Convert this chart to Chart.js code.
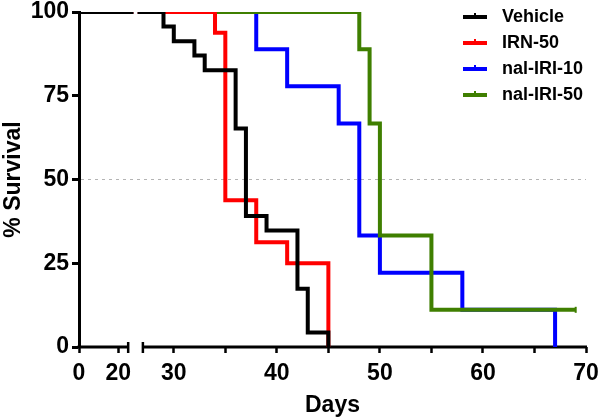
<!DOCTYPE html>
<html>
<head>
<meta charset="utf-8">
<script src="https://cdn.jsdelivr.net/npm/chart.js@4.4.1/dist/chart.umd.min.js"></script>
<style>
	html, body { margin: 0; padding: 0; background: #fff; }
	.km-wrap { position: relative; width: 600px; height: 420px; }
</style>
</head>
<body>
<div class="km-wrap"><canvas id="km-chart"></canvas></div>
<script>
// survival steps (day of event, % survival after it)
var vehicleDays = [29, 30, 32, 33, 36, 37, 39, 42, 43, 45];
var vehicleSurv = [95.7, 91.3, 87.0, 82.6, 65.2, 39.1, 34.8, 17.4, 4.3, 0];
var irnDays = [34, 35, 38, 41, 45];
var irnSurv = [93.8, 43.8, 31.3, 25.0, 0];
var iri10Days = [38, 41, 46, 48, 50, 58, 67];
var iri10Surv = [88.9, 77.8, 66.7, 33.3, 22.2, 11.1, 0];
var iri50Days = [48, 49, 50, 55, 69];
var iri50Surv = [88.9, 66.7, 33.3, 11.1, 11.1];
var iri50Censored = [69];

var seriesNames = ['Vehicle', 'IRN-50', 'nal-IRI-10', 'nal-IRI-50'];
var seriesColors = ['#000000', '#ff0000', '#0000ff', '#3f7f00'];

// broken x axis: two segments, and where the curves themselves are cut
var xSegments = [[0, 25], [27, 70]];
var lineBreak = [25.7, 26.3];
var xTickValues = [0, 20, 30, 35, 40, 45, 50, 55, 60, 65, 70];
var xTickLabels = [0, 20, 30, 40, 50, 60, 70];
var yTickStep = 25;

// share of the axis width taken by segment 1 and by the gap
var breakFrac = [0.097, 0.126];

class BrokenLinearScale extends Chart.LinearScale {
	static id = 'brokenLinear';
	static defaults = {};

	_decFor(v) {
		var a = xSegments[0], b = xSegments[1];
		if (v <= a[1]) return (v - a[0]) / (a[1] - a[0]) * breakFrac[0];
		if (v >= b[0]) return breakFrac[1] + (v - b[0]) / (b[1] - b[0]) * (1 - breakFrac[1]);
		return breakFrac[0] + (v - a[1]) / (b[0] - a[1]) * (breakFrac[1] - breakFrac[0]);
	}

	getPixelForValue(v) {
		if (v === null || v === undefined || isNaN(v)) return NaN;
		return this.getPixelForDecimal(this._decFor(v));
	}

	getValueForPixel(p) {
		var d = this.getDecimalForPixel(p);
		var a = xSegments[0], b = xSegments[1];
		if (d <= breakFrac[0]) return a[0] + d / breakFrac[0] * (a[1] - a[0]);
		if (d >= breakFrac[1]) return b[0] + (d - breakFrac[1]) / (1 - breakFrac[1]) * (b[1] - b[0]);
		return a[1] + (d - breakFrac[0]) / (breakFrac[1] - breakFrac[0]) * (b[0] - a[1]);
	}
}
Chart.register(BrokenLinearScale);

function kmPoints(days, surv) {
	var pts = [{x: xSegments[0][0], y: 100}, {x: lineBreak[0], y: 100}, {x: lineBreak[1], y: 100}];
	days.forEach(function (d, i) {
		pts.push({x: d, y: surv[i]});
	});
	return pts;
}

var allDays = [vehicleDays, irnDays, iri10Days, iri50Days];
var allSurv = [vehicleSurv, irnSurv, iri10Surv, iri50Surv];
var allCensored = [[], [], [], iri50Censored];
// black on top, then red, green, blue underneath
var drawOrder = [0, 1, 3, 2];

var FONT = '"Liberation Sans", Arial, Helvetica, sans-serif';

var datasets = seriesNames.map(function (name, i) {
	var cens = allCensored[i];
	return {
		label: name,
		data: kmPoints(allDays[i], allSurv[i]),
		borderColor: seriesColors[i],
		backgroundColor: seriesColors[i],
		borderWidth: 4,
		stepped: true,
		fill: false,
		order: drawOrder[i],
		pointStyle: 'line',
		rotation: 90,
		pointBorderWidth: 2,
		pointRadius: function (c) {
			return c.raw && cens.indexOf(c.raw.x) > -1 ? 3 : 0;
		},
		pointHoverRadius: 0,
		segment: {
			borderColor: function (c) {
				return c.p0.parsed.x === lineBreak[0] ? 'rgba(0,0,0,0)' : undefined;
			}
		}
	};
});

var brokenAxis = {
	id: 'brokenAxis',
	beforeDatasetsDraw: function (chart) {
		var sx = chart.scales.x;
		var ctx = chart.ctx;
		var y = chart.chartArea.bottom;
		ctx.save();
		ctx.strokeStyle = '#000';
		ctx.lineWidth = 3;
		xSegments.forEach(function (seg, i) {
			var p0 = sx.getPixelForValue(seg[0]);
			var p1 = sx.getPixelForValue(seg[1]);
			ctx.beginPath();
			ctx.moveTo(p0 - (i === 0 ? 1.5 : 0), y);
			ctx.lineTo(p1 + (i === 1 ? 1 : 0), y);
			ctx.stroke();
		});
		// end caps at the break
		ctx.lineWidth = 2.5;
		[xSegments[0][1], xSegments[1][0]].forEach(function (v) {
			var p = sx.getPixelForValue(v);
			ctx.beginPath();
			ctx.moveTo(p, y - 5);
			ctx.lineTo(p, y + 6);
			ctx.stroke();
		});
		ctx.restore();
	}
};

var kmLegend = {
	id: 'kmLegend',
	afterDraw: function (chart) {
		var ctx = chart.ctx;
		var area = chart.chartArea;
		var x0 = area.right - 123;
		var y0 = area.top + 5;
		ctx.save();
		ctx.font = 'bold 18px ' + FONT;
		ctx.textBaseline = 'middle';
		ctx.textAlign = 'left';
		chart.data.datasets.forEach(function (ds, i) {
			var y = y0 + i * 26;
			ctx.fillStyle = ds.borderColor;
			ctx.fillRect(x0, y - 2, 24, 4);
			ctx.fillRect(x0 + 11, y - 4, 2, 2);
			ctx.fillStyle = '#000';
			ctx.fillText(ds.label, x0 + 39, y);
		});
		ctx.restore();
	}
};

Chart.defaults.font.family = FONT;
Chart.defaults.color = '#000';

new Chart(document.getElementById('km-chart'), {
	type: 'line',
	data: {datasets: datasets},
	plugins: [brokenAxis, kmLegend],
	options: {
		responsive: true,
		maintainAspectRatio: false,
		animation: false,
		layout: {padding: 0},
		plugins: {
			legend: {display: false},
			tooltip: {enabled: false}
		},
		scales: {
			x: {
				type: 'brokenLinear',
				min: xSegments[0][0],
				max: xSegments[1][1],
				afterBuildTicks: function (s) {
					s.ticks = xTickValues.map(function (v) { return {value: v}; });
				},
				afterFit: function (s) {
					s.height = 73;
					s.paddingLeft = 0;
					s.paddingRight = 14;
				},
				border: {display: false},
				grid: {
					drawOnChartArea: false,
					tickLength: 6,
					tickWidth: 2.5,
					tickColor: '#000',
					color: '#000'
				},
				ticks: {
					autoSkip: false,
					maxRotation: 0,
					padding: 7,
					font: {size: 23, weight: 'bold'},
					callback: function (v) {
						return xTickLabels.indexOf(v) > -1 ? String(v) : '';
					}
				},
				title: {
					display: true,
					text: 'Days',
					font: {size: 23, weight: 'bold'},
					padding: {top: 0, bottom: 1}
				}
			},
			y: {
				min: 0,
				max: 100,
				afterFit: function (s) {
					s.width = 79;
					s.paddingTop = 12;
					s.paddingBottom = 0;
				},
				border: {display: true, color: '#000', width: 3, dash: [3, 4]},
				grid: {
					color: function (c) {
						return c.tick && c.tick.value === 50 ? '#b4b4b4' : 'rgba(0,0,0,0)';
					},
					lineWidth: 1,
					tickLength: 7,
					tickWidth: 3,
					tickColor: '#000'
				},
				ticks: {
					stepSize: yTickStep,
					padding: 3,
					font: {size: 23, weight: 'bold'}
				},
				title: {
					display: true,
					text: '% Survival',
					font: {size: 23, weight: 'bold'},
					padding: 0
				}
			}
		}
	}
});
</script>
</body>
</html>
